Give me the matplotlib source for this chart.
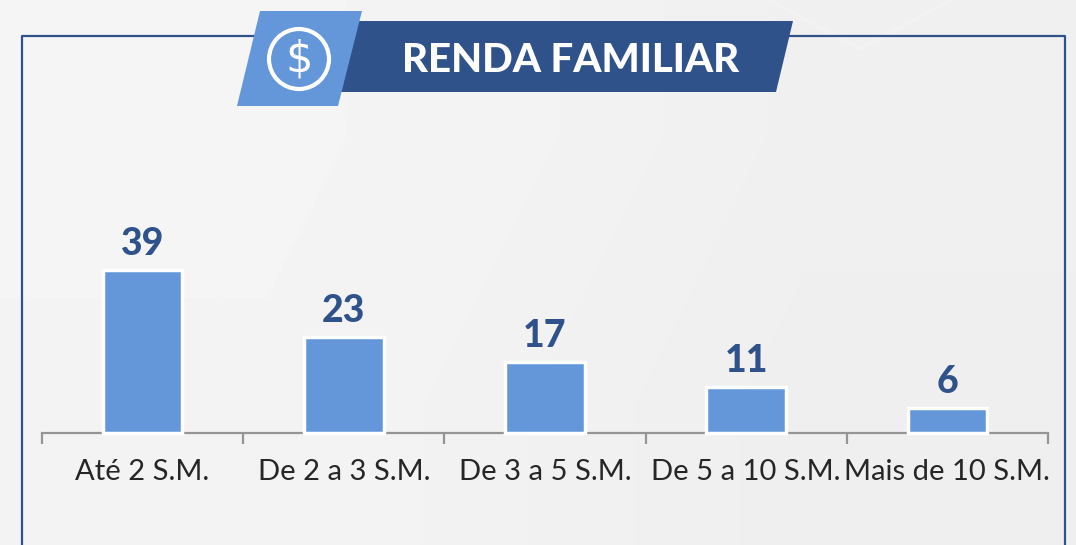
import numpy as np
import matplotlib
matplotlib.use("Agg")
import matplotlib.pyplot as plt
from matplotlib.patches import Circle, Polygon

W, H = 1076, 545

categories = ["Até 2 S.M.", "De 2 a 3 S.M.", "De 3 a 5 S.M.", "De 5 a 10 S.M.", "Mais de 10 S.M."]
values = [39, 23, 17, 11, 6]

DARK_BLUE = "#2f528b"
LIGHT_BLUE = "#6496da"
AXIS_GREY = "#959595"

plt.rcParams["font.family"] = ["Lato", "DejaVu Sans"]

fig = plt.figure(figsize=(W / 100, H / 100), dpi=100)

# background and frame are drawn in pixel coords
bg = fig.add_axes([0, 0, 1, 1], zorder=0)
bg.set_xlim(0, W)
bg.set_ylim(H, 0)
bg.axis("off")
grad = np.array([[0.96, 0.94], [0.955, 0.935]])
bg.imshow(grad, cmap="gray", vmin=0, vmax=1, extent=[0, W, H, 0], aspect="auto", interpolation="bilinear")
bg.plot([760, 860, 960], [-5, 49, -5], color="#f2f2f2", lw=3)
bg.plot([22, 22, 1065, 1065], [545, 36, 36, 545], color=DARK_BLUE, lw=1.6)

# chart
ax = fig.add_axes([42 / W, 1 - 433 / H, (1048 - 42) / W, 300 / H], zorder=1)
ax.patch.set_alpha(0)
x = np.arange(len(categories))
bars = ax.bar(x, values, width=0.395, color=LIGHT_BLUE, edgecolor="white", linewidth=2.5, zorder=3, clip_on=False)
for rect, val in zip(bars, values):
    ax.annotate(str(val), (rect.get_x() + rect.get_width() / 2, val), xytext=(0, 6.5),
                textcoords="offset points", ha="center", va="bottom",
                fontsize=27, fontweight="black", color=DARK_BLUE)
ax.set_xlim(-0.5, len(categories) - 0.5)
ax.set_ylim(0, 300 / 4.18)
ax.set_yticks([])
ax.set_xticks(np.arange(len(categories) + 1) - 0.5)
ax.set_xticklabels([])
ax.tick_params(axis="x", length=8, width=1.6, color=AXIS_GREY)
for name in ["top", "left", "right"]:
    ax.spines[name].set_visible(False)
ax.spines["bottom"].set_color(AXIS_GREY)
ax.spines["bottom"].set_linewidth(1.6)
for i, cat in enumerate(categories):
    ax.annotate(cat, (i, 0), xytext=(0, -19), textcoords="offset points", ha="center", va="top",
                fontsize=21, color="#262626")

# title banner
top = fig.add_axes([0, 0, 1, 1], zorder=2)
top.set_xlim(0, W)
top.set_ylim(H, 0)
top.axis("off")
top.add_patch(Polygon([[342, 21], [793, 21], [776, 92], [325, 92]], closed=True, color=DARK_BLUE, lw=0))
top.add_patch(Polygon([[260, 11], [362, 11], [338, 106], [237, 106]], closed=True, color=LIGHT_BLUE, lw=0))
top.add_patch(Circle((299, 59), 30, fill=False, ec="white", lw=3))
top.text(299, 59, "$", color="white", fontsize=31, ha="center", va="center", family="DejaVu Sans",
         fontweight="normal", path_effects=None)
top.text(571, 60, "RENDA FAMILIAR", color="white", fontsize=29, fontweight="black", ha="center", va="center")

fig.savefig("out.png", dpi=100)
